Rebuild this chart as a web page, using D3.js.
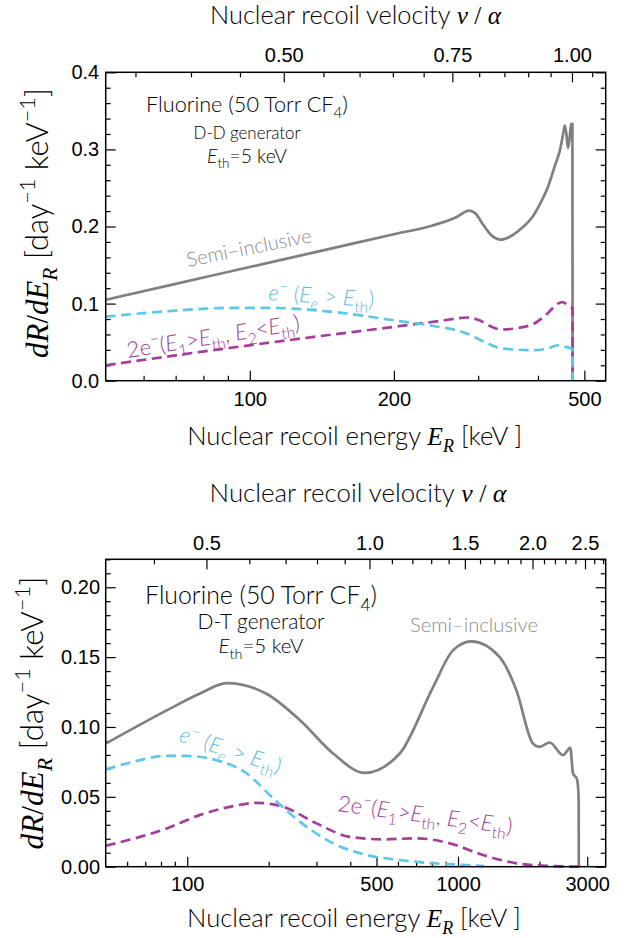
<!DOCTYPE html>
<html><head><meta charset="utf-8">
<script src="https://cdn.jsdelivr.net/npm/d3@7"></script>
<style>body{margin:0;background:#fff} svg{display:block}</style>
</head><body>
<svg id="chart" width="633" height="938"></svg>
<script>
// ================= DATA =================
// D-D generator panel (energy in keV, rate in day^-1 keV^-1)
const ddSemiE = [50, 70, 100, 140, 200, 240, 270, 287, 296, 306, 318, 335, 350, 370, 390, 406, 420, 434, 445, 452, 455, 459, 462, 466, 469, 472, 472.5];
const ddSemiR = [0.105, 0.1256, 0.1475, 0.168, 0.190, 0.201, 0.212, 0.2205, 0.217, 0.204, 0.190, 0.183, 0.187, 0.198, 0.213, 0.232, 0.252, 0.279, 0.300, 0.322, 0.331, 0.318, 0.302, 0.316, 0.333, 0.333, 0];
const ddOneE  = [50, 67, 92.5, 109, 150, 207, 242, 285, 310, 335, 393, 420, 440, 455, 468, 472, 472.5];
const ddOneR  = [0.083, 0.090, 0.0945, 0.0945, 0.089, 0.077, 0.071, 0.061, 0.050, 0.042, 0.0396, 0.042, 0.046, 0.044, 0.042, 0.040, 0];
const ddTwoE  = [50, 79, 128, 207, 250, 285, 300, 320, 335, 360, 393, 420, 440, 450, 460, 468, 472, 472.5];
const ddTwoR  = [0.020, 0.0374, 0.0547, 0.071, 0.0775, 0.082, 0.079, 0.070, 0.0664, 0.068, 0.0742, 0.088, 0.100, 0.102, 0.099, 0.096, 0.094, 0];

// D-T generator panel
const dtSemiE = [50, 84, 111, 140, 196, 261, 346, 452, 609, 809, 958, 1120, 1425, 1643, 1892, 2002, 2181, 2441, 2598, 2658, 2745, 2780, 2790, 2792];
const dtSemiR = [0.0881, 0.1119, 0.1238, 0.1314, 0.1238, 0.1048, 0.081, 0.0671, 0.081, 0.1286, 0.1548, 0.1612, 0.150, 0.1262, 0.0881, 0.0857, 0.0889, 0.0798, 0.085, 0.0667, 0.0631, 0.0548, 0.045, 0];
const dtOneE  = [50, 63, 84, 99, 128, 166, 208, 261, 346, 459, 609, 800, 1074, 1250];
const dtOneR  = [0.0696, 0.075, 0.0793, 0.0793, 0.0762, 0.0667, 0.0488, 0.0321, 0.0167, 0.0084, 0.0048, 0.0025, 0.0012, 0.0005];
const dtTwoE  = [50, 84, 111, 148, 180, 226, 300, 398, 529, 702, 932, 1237, 1643, 2181, 2790];
const dtTwoR  = [0.015, 0.0274, 0.0369, 0.0434, 0.0457, 0.0429, 0.031, 0.0214, 0.0196, 0.0203, 0.0167, 0.0084, 0.0024, 0.0005, 0.0];

// Axis ticks
const ddEnergyTicks = [100, 200, 500];
const ddEnergyMinor = [60, 70, 80, 90, 300, 400];
const ddVelTicks    = [0.5, 0.75, 1.0];
const ddVelMinor    = [0.35, 0.4, 0.45, 0.55, 0.6, 0.65, 0.7, 0.8, 0.85, 0.9, 0.95, 1.05];
const ddRateTicks   = [0, 0.1, 0.2, 0.3, 0.4];
const dtEnergyTicks = [100, 500, 1000, 3000];
const dtEnergyMinor = [60, 70, 80, 90, 200, 300, 400, 600, 700, 800, 900, 2000];
const dtVelTicks    = [0.5, 1.0, 1.5, 2.0, 2.5];
const dtVelMinor    = [0.4, 0.6, 0.7, 0.8, 0.9, 1.1, 1.2, 1.3, 1.4, 1.6, 1.7, 1.8, 1.9, 2.1, 2.2, 2.3, 2.4, 2.6, 2.7];
const dtRateTicks   = [0, 0.05, 0.1, 0.15, 0.2];

const vRefE = 471; // recoil energy (keV) at v/alpha = 1 for fluorine

// ================= STYLE / LAYOUT =================
const serif = "'Liberation Serif','DejaVu Serif',serif";
const sansT = "'Liberation Sans',Arial,sans-serif";
const light = "Lato,'Open Sans','Noto Sans',sans-serif";
const C = {semi:'#808080', one:'#5cc8ee', two:'#a63d9b', semiT:'#8c8c8c', oneT:'#5bbce2', twoT:'#a23a98'};

const P = (t, o = {}) => Object.assign({t}, o);
function rich(sel, parts, fs) {
  sel.selectAll('tspan').remove();
  let shift = 0;
  parts.forEach(p => {
    const t = sel.append('tspan').text(p.t);
    const target = p.sub ? fs * 0.28 : p.sup ? -fs * 0.42 : 0;
    t.attr('dy', (target - shift).toFixed(2));
    shift = target;
    t.attr('font-size', (p.sub || p.sup) ? fs * 0.7 : fs);
    if (p.i) t.attr('font-style', 'italic');
    if (p.serif) t.attr('font-family', serif).attr('font-weight', 400);
  });
}
function addText(g, o) {
  const t = g.append('text')
    .attr('transform', `translate(${o.x},${o.y}) rotate(${o.rot || 0})`)
    .attr('text-anchor', o.anchor || 'start')
    .attr('fill', o.color || '#000')
    .attr('font-family', o.font || light)
    .attr('font-weight', o.weight || 300);
  rich(t, o.parts, o.fs);
  if (o.width) {
    const w = t.node().getComputedTextLength();
    rich(t, o.parts, o.fs * o.width / w);
  }
  return t;
}

const semiParts = [P('Semi–inclusive')];
const oneParts = [P('e', {i:1}), P('−', {sup:1}), P(' ('), P('E', {i:1}), P('e', {i:1, sub:1}), P(' > '), P('E', {i:1}), P('th', {sub:1}), P(')')];
const twoParts = [P('2e'), P('−', {sup:1}), P('('), P('E', {i:1}), P('1', {sub:1}), P('>'), P('E', {i:1}), P('th', {sub:1}), P(', '), P('E', {i:1}), P('2', {sub:1}), P('<'), P('E', {i:1}), P('th', {sub:1}), P(')')];
const velTitle = [P('Nuclear recoil velocity '), P('v', {i:1, serif:1}), P(' / ', {serif:1}), P('α', {i:1, serif:1})];
const enTitle = [P('Nuclear recoil energy '), P('E', {i:1, serif:1}), P('R', {i:1, serif:1, sub:1}), P(' [keV ]')];
const rateTitle = [P('dR', {i:1, serif:1}), P('/', {serif:1}), P('dE', {i:1, serif:1}), P('R', {i:1, serif:1, sub:1}), P(' [day'), P('−1', {sup:1}), P(' keV'), P('−1', {sup:1}), P(']')];

const panels = [
  {
    box: {x0: 105.7, x1: 605.7, y0: 72.3, y1: 380.7}, eDomain: [50, 554], rMax: 0.4,
    semi: [ddSemiE, ddSemiR], one: [ddOneE, ddOneR], two: [ddTwoE, ddTwoR],
    eTicks: ddEnergyTicks, eMinor: ddEnergyMinor, vTicks: ddVelTicks, vMinor: ddVelMinor,
    rTicks: ddRateTicks, rMinorStep: 0.02, rFmt: '.1f', vFmt: '.2f',
    pad: {bottom: 11, top: 10, left: 6.5},
    titles: {vel: [355.5, 24, 291], en: [354.6, 445, 335], rate: [48, 223, 270]},
    gen: 'D-D generator',
    ann: {x: 247, y: [112, 139, 163], w: [202, 107, 80]},
    semiLab: {x: 188, y: 267, rot: -11.3, w: 127},
    oneLab: {x: 268, y: 300, rot: 3.8, w: 106},
    twoLab: {x: 128, y: 358, rot: -9.2, w: 175}
  },
  {
    box: {x0: 105.7, x1: 605.7, y0: 559.3, y1: 866.7}, eDomain: [50, 3510], rMax: 0.22,
    semi: [dtSemiE, dtSemiR], one: [dtOneE, dtOneR], two: [dtTwoE, dtTwoR],
    eTicks: dtEnergyTicks, eMinor: dtEnergyMinor, vTicks: dtVelTicks, vMinor: dtVelMinor,
    rTicks: dtRateTicks, rMinorStep: 0.01, rFmt: '.2f', vFmt: '.1f',
    pad: {bottom: 10, top: 9, left: 5.7},
    titles: {vel: [358, 502, 297], en: [354, 927, 334], rate: [43, 713, 273]},
    gen: 'D-T generator',
    ann: {x: 261, y: [604, 629, 653], w: [232, 127, 85]},
    semiLab: {x: 410, y: 632, rot: 0, w: 128},
    oneLab: {x: 178, y: 741, rot: 18, w: 106},
    twoLab: {x: 337, y: 811, rot: 7.5, w: 176}
  }
];

const svg = d3.select('#chart');
svg.append('rect').attr('width', 633).attr('height', 938).attr('fill', '#fff');

panels.forEach(p => {
  const b = p.box;
  const g = svg.append('g');
  const x = d3.scaleLog().domain(p.eDomain).range([b.x0, b.x1]);
  const xv = d3.scaleLog().domain(p.eDomain.map(e => Math.sqrt(e / vRefE))).range([b.x0, b.x1]);
  const y = d3.scaleLinear().domain([0, p.rMax]).range([b.y1, b.y0]);
  const rMinor = d3.range(0, p.rMax + 1e-9, p.rMinorStep).filter(v => !p.rTicks.some(t => Math.abs(t - v) < 1e-9));

  const styleAxis = (sel) => {
    sel.select('.domain').remove();
    sel.selectAll('.tick line').attr('stroke', '#000').attr('stroke-width', 1.2);
    sel.selectAll('.tick text').attr('font-family', sansT).attr('font-size', 20).attr('fill', '#000');
  };
  // bottom energy axis
  g.append('g').attr('transform', `translate(0,${b.y1})`)
    .call(d3.axisBottom(x).tickValues(p.eTicks).tickFormat(d3.format('d')).tickSize(-10).tickPadding(p.pad.bottom)).call(styleAxis);
  g.append('g').attr('transform', `translate(0,${b.y1})`)
    .call(d3.axisBottom(x).tickValues(p.eMinor).tickFormat('').tickSize(-5)).call(styleAxis);
  // top velocity axis
  g.append('g').attr('transform', `translate(0,${b.y0})`)
    .call(d3.axisTop(xv).tickValues(p.vTicks).tickFormat(d3.format(p.vFmt)).tickSize(-10).tickPadding(p.pad.top)).call(styleAxis);
  g.append('g').attr('transform', `translate(0,${b.y0})`)
    .call(d3.axisTop(xv).tickValues(p.vMinor).tickFormat('').tickSize(-5)).call(styleAxis);
  // left / right rate axes
  g.append('g').attr('transform', `translate(${b.x0},0)`)
    .call(d3.axisLeft(y).tickValues(p.rTicks).tickFormat(d3.format(p.rFmt)).tickSize(-10).tickPadding(p.pad.left)).call(styleAxis);
  g.append('g').attr('transform', `translate(${b.x0},0)`)
    .call(d3.axisLeft(y).tickValues(rMinor).tickFormat('').tickSize(-5)).call(styleAxis);
  g.append('g').attr('transform', `translate(${b.x1},0)`)
    .call(d3.axisRight(y).tickValues(p.rTicks).tickFormat('').tickSize(-10)).call(styleAxis);
  g.append('g').attr('transform', `translate(${b.x1},0)`)
    .call(d3.axisRight(y).tickValues(rMinor).tickFormat('').tickSize(-5)).call(styleAxis);

  // curves
  const line = d3.line().x(d => x(d[0])).y(d => y(d[1])).curve(d3.curveMonotoneX);
  g.append('path').datum(d3.zip(...p.semi)).attr('d', line)
    .attr('fill', 'none').attr('stroke', C.semi).attr('stroke-width', 2.7).attr('stroke-linejoin', 'round');
  g.append('path').datum(d3.zip(...p.two)).attr('d', line)
    .attr('fill', 'none').attr('stroke', C.two).attr('stroke-width', 2.7).attr('stroke-dasharray', '10,5.5');
  g.append('path').datum(d3.zip(...p.one)).attr('d', line)
    .attr('fill', 'none').attr('stroke', C.one).attr('stroke-width', 2.7).attr('stroke-dasharray', '10,5.5');

  // frame
  g.append('rect').attr('x', b.x0).attr('y', b.y0).attr('width', b.x1 - b.x0).attr('height', b.y1 - b.y0)
    .attr('fill', 'none').attr('stroke', '#000').attr('stroke-width', 1.5);

  // axis titles
  addText(g, {x: p.titles.vel[0], y: p.titles.vel[1], anchor: 'middle', parts: velTitle, fs: 22, width: p.titles.vel[2]});
  addText(g, {x: p.titles.en[0], y: p.titles.en[1], anchor: 'middle', parts: enTitle, fs: 22, width: p.titles.en[2]});
  addText(g, {x: p.titles.rate[0], y: p.titles.rate[1], rot: -90, anchor: 'middle', parts: rateTitle, fs: 21, width: p.titles.rate[2]});

  // annotation block
  const a = p.ann;
  addText(g, {x: a.x, y: a.y[0], anchor: 'middle', parts: [P('Fluorine (50 Torr CF'), P('4', {sub:1}), P(')')], fs: 20, width: a.w[0]});
  addText(g, {x: a.x, y: a.y[1], anchor: 'middle', parts: [P(p.gen)], fs: 17, width: a.w[1]});
  addText(g, {x: a.x, y: a.y[2], anchor: 'middle', parts: [P('E', {i:1}), P('th', {sub:1}), P('=5 keV')], fs: 17, width: a.w[2]});

  // curve labels
  addText(g, {x: p.semiLab.x, y: p.semiLab.y, rot: p.semiLab.rot, parts: semiParts, fs: 17, width: p.semiLab.w, color: C.semiT});
  addText(g, {x: p.oneLab.x, y: p.oneLab.y, rot: p.oneLab.rot, parts: oneParts, fs: 16, width: p.oneLab.w, color: C.oneT});
  addText(g, {x: p.twoLab.x, y: p.twoLab.y, rot: p.twoLab.rot, parts: twoParts, fs: 16, width: p.twoLab.w, color: C.twoT});
});
</script>
</body></html>
